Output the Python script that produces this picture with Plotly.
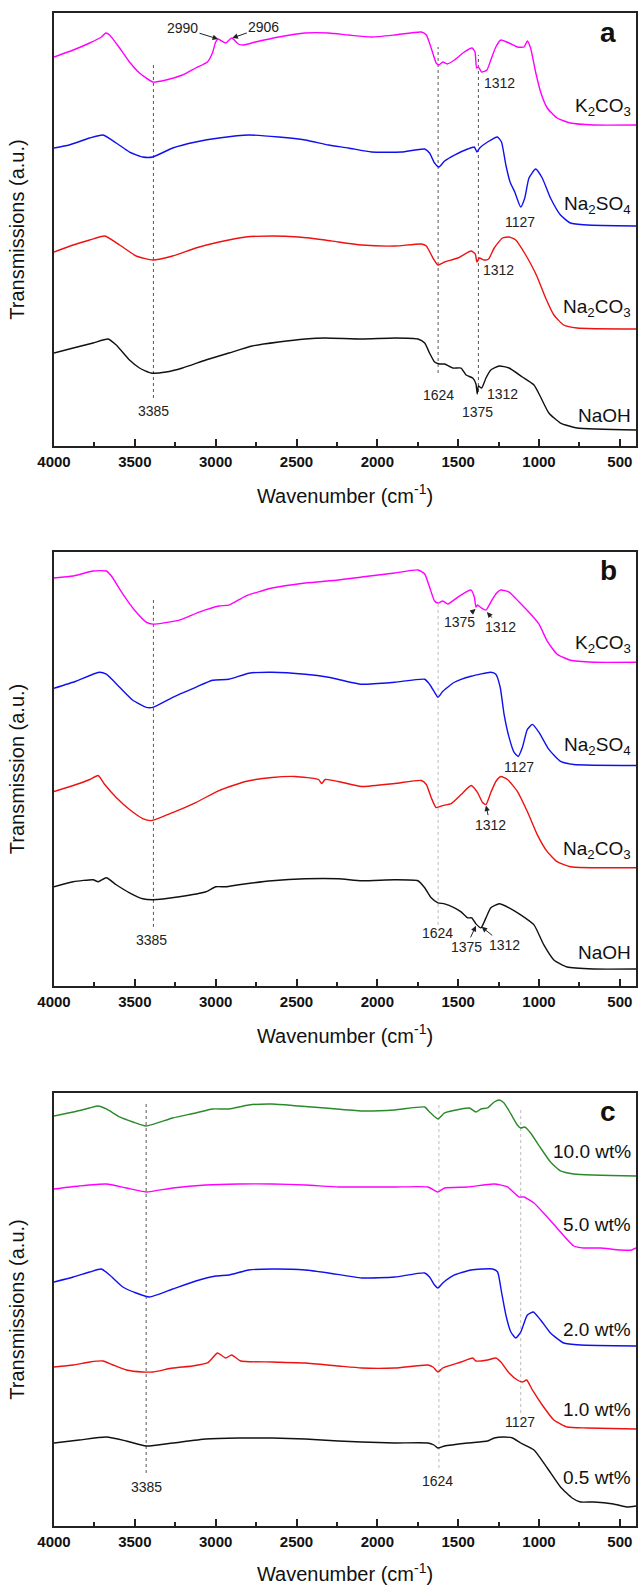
import plotly.graph_objects as go

# ---------------- Panel a ----------------
a_k2co3_wn = [4000, 3881, 3779, 3707, 3680, 3656, 3594, 3533, 3471, 3389, 3307, 3205, 3123, 3051, 3020, 3000, 2985, 2938, 2901, 2860,
              2831, 2754, 2610, 2446, 2302, 2179, 2036, 1892, 1728, 1697, 1667, 1636, 1619, 1595, 1568, 1523, 1462, 1414, 1396, 1386,
              1375, 1355, 1322, 1298, 1267, 1236, 1185, 1133, 1093, 1072, 1052, 1021, 990, 949, 888, 806, 662, 400]
a_k2co3_t = [389, 396, 403, 409, 413, 411, 398, 384, 373, 364, 366, 371, 378, 384, 393, 404, 407, 403, 408, 402,
             401, 404, 409, 413, 413, 411, 409, 411, 414, 411, 398, 383, 381, 384, 382, 386, 394, 398, 394, 378,
             379, 374, 376, 386, 399, 406, 403, 399, 399, 405, 398, 374, 354, 338, 328, 323, 321, 321]

a_na2so4_wn = [4000, 3906, 3779, 3697, 3615, 3533, 3451, 3389, 3266, 3123, 2979, 2795, 2610, 2446, 2302, 2179, 2036, 1851,
               1707, 1677, 1646, 1619, 1584, 1523, 1441, 1400, 1384, 1367, 1318, 1257, 1232, 1205, 1179, 1150, 1113, 1088,
               1062, 1021, 980, 929, 867, 806, 703, 400]
a_na2so4_t = [298, 301, 308, 311, 303, 294, 289, 289, 298, 304, 308, 311, 309, 306, 301, 298, 294, 294,
              297, 293, 283, 279, 285, 291, 297, 299, 294, 298, 304, 309, 304, 281, 264, 254, 239, 248,
              268, 277, 268, 248, 231, 223, 221, 220]

a_na2co3_wn = [4000, 3881, 3779, 3686, 3594, 3492, 3389, 3266, 3123, 2979, 2815, 2651, 2487, 2323, 2241, 2097, 1892, 1728,
               1697, 1656, 1625, 1584, 1502, 1420, 1394, 1384, 1369, 1339, 1312, 1277, 1226, 1185, 1144, 1082, 1041, 1011,
               959, 908, 847, 765, 400]
a_na2co3_t = [194, 201, 206, 210, 201, 190, 186, 190, 198, 204, 209, 210, 209, 206, 204, 201, 200, 202,
              200, 188, 181, 184, 188, 195, 192, 184, 188, 186, 187, 198, 208, 209, 206, 191, 179, 169,
              148, 131, 121, 118, 117]

a_naoh_wn = [4000, 3881, 3758, 3666, 3615, 3533, 3471, 3399, 3307, 3205, 3061, 2918, 2774, 2610, 2446, 2323, 2097, 1892,
             1749, 1707, 1677, 1646, 1615, 1584, 1533, 1482, 1451, 1410, 1390, 1382, 1375, 1355, 1328, 1298, 1246, 1185,
             1103, 1031, 990, 939, 867, 765, 400]
a_naoh_t = [93, 98, 103, 107, 101, 86, 78, 73, 74, 78, 86, 93, 100, 104, 107, 108, 107, 108,
            107, 103, 93, 84, 82, 82, 78, 78, 71, 68, 62, 52, 60, 58, 68, 76, 80, 78,
            69, 61, 49, 33, 23, 18, 16]

# ---------------- Panel b ----------------
b_k2co3_wn = [4000, 3881, 3758, 3676, 3645, 3574, 3492, 3430, 3389, 3225, 3102, 2979, 2918, 2815, 2651, 2446, 2241, 2097,
              1892, 1749, 1707, 1677, 1646, 1625, 1595, 1564, 1502, 1441, 1420, 1400, 1390, 1380, 1355, 1328, 1298, 1267,
              1236, 1185, 1123, 1052, 1000, 949, 888, 806, 662, 400]
b_k2co3_t = [407, 409, 414, 414, 409, 391, 373, 363, 361, 365, 373, 379, 380, 389, 397, 402, 405, 408,
             412, 415, 411, 398, 384, 382, 384, 381, 388, 394, 395, 388, 378, 380, 377, 375, 383, 391,
             395, 393, 383, 371, 361, 344, 331, 325, 323, 323]

b_na2so4_wn = [4000, 3865, 3721, 3676, 3594, 3512, 3430, 3389, 3266, 3123, 3020, 2918, 2795, 2651, 2446, 2302, 2097, 1892,
               1707, 1677, 1646, 1625, 1595, 1523, 1420, 1298, 1267, 1240, 1216, 1185, 1154, 1129, 1103, 1072, 1041, 1000,
               939, 867, 785, 400]
b_na2so4_t = [297, 304, 313, 311, 298, 285, 278, 278, 288, 298, 305, 306, 312, 313, 311, 308, 301, 303,
              306, 301, 293, 288, 294, 303, 309, 313, 311, 298, 271, 248, 233, 229, 238, 256, 261, 253,
              236, 224, 221, 220]

b_na2co3_wn = [4000, 3881, 3779, 3727, 3686, 3615, 3533, 3451, 3399, 3266, 3123, 2979, 2815, 2651, 2508, 2364, 2344, 2323,
               2241, 2097, 1892, 1728, 1697, 1667, 1636, 1595, 1543, 1482, 1420, 1380, 1349, 1328, 1298, 1267, 1236, 1195,
               1133, 1072, 1011, 949, 888, 806, 400]
b_na2co3_t = [194, 200, 206, 210, 201, 188, 176, 167, 165, 173, 183, 195, 204, 208, 209, 206, 202, 206,
              204, 199, 202, 205, 201, 188, 178, 180, 182, 191, 200, 193, 183, 181, 193, 204, 209, 206,
              194, 174, 151, 134, 124, 119, 118]

b_naoh_wn = [4000, 3881, 3758, 3727, 3676, 3615, 3533, 3451, 3389, 3225, 3061, 2999, 2938, 2856, 2651, 2446, 2241, 2097,
             1892, 1749, 1707, 1667, 1625, 1584, 1523, 1482, 1441, 1416, 1390, 1359, 1328, 1298, 1246, 1185, 1113, 1031,
             970, 908, 826, 662, 400]
b_naoh_t = [99, 104, 106, 104, 108, 101, 93, 87, 86, 89, 94, 99, 99, 101, 105, 107, 107, 105,
            106, 105, 98, 88, 83, 82, 78, 74, 68, 68, 62, 58, 68, 78, 82, 78, 71, 61,
            41, 26, 19, 17, 17]

# ---------------- Panel c ----------------
c_w10_wn = [4000, 3881, 3779, 3727, 3676, 3594, 3512, 3430, 3266, 3123, 3020, 2918, 2795, 2651, 2487, 2323, 2097, 1892,
            1707, 1677, 1625, 1584, 1482, 1431, 1390, 1359, 1318, 1277, 1246, 1216, 1174, 1134, 1113, 1088, 1052, 990,
            929, 867, 785, 400]
c_w10_t = [410, 414, 418, 420, 417, 409, 404, 400, 408, 413, 417, 417, 421, 422, 420, 418, 415, 416,
           419, 414, 407, 413, 417, 418, 414, 417, 418, 424, 426, 423, 412, 401, 398, 399, 393, 378,
           364, 355, 352, 350]

c_w5_wn = [4000, 3844, 3676, 3553, 3430, 3266, 3061, 2856, 2651, 2446, 2241, 2097, 1892, 1687, 1625, 1584, 1441, 1277,
           1195, 1123, 1093, 1031, 949, 867, 785, 724, 621, 498, 426, 400]
c_w5_t = [337, 340, 342, 338, 334, 338, 341, 342, 342, 341, 339, 339, 339, 339, 334, 338, 339, 342,
          339, 329, 329, 323, 309, 294, 280, 278, 278, 276, 276, 278]

c_w2_wn = [4000, 3881, 3779, 3707, 3656, 3574, 3492, 3410, 3266, 3123, 2999, 2918, 2795, 2651, 2446, 2302, 2097, 1892,
           1707, 1677, 1646, 1625, 1595, 1523, 1420, 1287, 1256, 1232, 1205, 1174, 1144, 1113, 1072, 1035, 990, 929,
           847, 744, 400]
c_w2_t = [244, 249, 254, 257, 251, 239, 233, 229, 237, 245, 250, 251, 256, 257, 256, 253, 248, 249,
          253, 249, 241, 238, 243, 251, 256, 257, 254, 234, 211, 194, 188, 194, 211, 214, 206, 193,
          183, 181, 180]

c_w1_wn = [4000, 3881, 3779, 3697, 3635, 3553, 3451, 3389, 3266, 3143, 3051, 3020, 2989, 2938, 2901, 2846, 2651, 2446,
           2241, 2097, 1892, 1687, 1656, 1625, 1595, 1482, 1410, 1390, 1318, 1267, 1236, 1185, 1134, 1103, 1076, 1041,
           980, 908, 826, 703, 400]
c_w1_t = [159, 161, 164, 165, 161, 156, 154, 154, 158, 160, 163, 168, 173, 168, 171, 165, 164, 163,
          160, 158, 158, 161, 159, 154, 158, 164, 168, 165, 166, 168, 164, 153, 146, 144, 146, 136,
          121, 106, 99, 98, 97]

c_w05_wn = [4000, 3844, 3676, 3553, 3430, 3266, 3061, 2856, 2651, 2446, 2241, 2097, 1892, 1687, 1650, 1625, 1584, 1441,
            1318, 1277, 1216, 1164, 1113, 1031, 949, 867, 795, 744, 662, 539, 457, 400]
c_w05_t = [83, 86, 89, 85, 80, 83, 87, 88, 88, 87, 85, 84, 83, 83, 81, 78, 80, 83,
           85, 88, 89, 88, 83, 76, 58, 39, 28, 24, 24, 22, 19, 20]

# series names / labels
a_names = ["K<sub>2</sub>CO<sub>3</sub>", "Na<sub>2</sub>SO<sub>4</sub>", "Na<sub>2</sub>CO<sub>3</sub>", "NaOH"]
c_names = ["10.0 wt%", "5.0 wt%", "2.0 wt%", "1.0 wt%", "0.5 wt%"]
a_label_t = [339, 241, 138, 31]
b_label_t = [341, 239, 136, 33]
c_label_t = [374, 301, 196, 116, 48]

# reference (dotted) lines: wavenumber, top, bottom
a_ref_wn = [3385, 1624, 1375]
a_ref_top = [384, 399, 391]
a_ref_bot = [48, 73, 54]
b_ref_wn = [3385, 1624]
b_ref_top = [385, 384]
b_ref_bot = [59, 61]
c_ref_wn = [3430, 1619, 1113]
c_ref_top = [424, 421, 416]
c_ref_bot = [53, 58, 113]

# peak labels (text, wavenumber, height)
a_peak_text = ["1312", "1127", "1312", "3385", "1624", "1375", "1312"]
a_peak_wn = [1246, 1119, 1252, 3385, 1619, 1380, 1226]
a_peak_t = [363, 224, 176, 35, 51, 34, 52]
b_peak_text = ["1127", "3385", "1624"]
b_peak_wn = [1123, 3400, 1625]
b_peak_t = [218, 46, 53]
c_peak_text = ["3385", "1624", "1127"]
c_peak_wn = [3430, 1625, 1117]
c_peak_t = [39, 45, 104]

# arrowed labels: text, label wn, label t, tip wn, tip t
a_arrow_text = ["2990", "2906"]
a_arrow_lwn = [3205, 2702]
a_arrow_lt = [418, 419]
a_arrow_twn = [2985, 2897]
a_arrow_tt = [407, 408]
b_arrow_text = ["1375", "1312", "1312", "1375", "1312"]
b_arrow_lwn = [1492, 1240, 1302, 1451, 1216]
b_arrow_lt = [363, 358, 161, 39, 41]
b_arrow_twn = [1392, 1322, 1328, 1390, 1355]
b_arrow_tt = [376, 373, 180, 60, 59]

a_colors = ["#ff00ff", "#1010ee", "#ee1111", "#111111"]
c_colors = ["#2a8a2a", "#ff00ff", "#1010ee", "#ee1111", "#111111"]

FONT = "Liberation Sans, Arial, sans-serif"
fig = go.Figure()

panels = [
    ("x", "y", [(a_k2co3_wn, a_k2co3_t), (a_na2so4_wn, a_na2so4_t), (a_na2co3_wn, a_na2co3_t), (a_naoh_wn, a_naoh_t)],
     a_colors, a_names, a_label_t, "a", (a_ref_wn, a_ref_top, a_ref_bot), ["#555", "#555", "#555"],
     (a_peak_text, a_peak_wn, a_peak_t), (a_arrow_text, a_arrow_lwn, a_arrow_lt, a_arrow_twn, a_arrow_tt)),
    ("x2", "y2", [(b_k2co3_wn, b_k2co3_t), (b_na2so4_wn, b_na2so4_t), (b_na2co3_wn, b_na2co3_t), (b_naoh_wn, b_naoh_t)],
     a_colors, a_names, b_label_t, "b", (b_ref_wn, b_ref_top, b_ref_bot), ["#555", "#bbb"],
     (b_peak_text, b_peak_wn, b_peak_t), (b_arrow_text, b_arrow_lwn, b_arrow_lt, b_arrow_twn, b_arrow_tt)),
    ("x3", "y3", [(c_w10_wn, c_w10_t), (c_w5_wn, c_w5_t), (c_w2_wn, c_w2_t), (c_w1_wn, c_w1_t), (c_w05_wn, c_w05_t)],
     c_colors, c_names, c_label_t, "c", (c_ref_wn, c_ref_top, c_ref_bot), ["#555", "#bbb", "#bbb"],
     (c_peak_text, c_peak_wn, c_peak_t), None),
]

annotations = []
for xa, ya, series, colors, names, label_t, letter, refs, ref_colors, peaks, arrows in panels:
    # reference dotted lines
    for wn, top, bot, col in zip(refs[0], refs[1], refs[2], ref_colors):
        fig.add_trace(go.Scatter(x=[wn, wn], y=[bot, top], mode="lines", xaxis=xa, yaxis=ya,
                                 line=dict(color=col, width=1, dash="dot"), hoverinfo="skip"))
    for (wn, t), col, name in zip(series, colors, names):
        fig.add_trace(go.Scatter(x=wn, y=t, mode="lines", xaxis=xa, yaxis=ya, name=name,
                                 line=dict(color=col, width=1.4, shape="spline", smoothing=0.5)))
    for name, lt in zip(names, label_t):
        annotations.append(dict(x=418, y=lt, xref=xa, yref=ya, text=name, showarrow=False,
                                xanchor="right", yanchor="middle", font=dict(family=FONT, size=19, color="#111")))
    annotations.append(dict(x=572, y=414, xref=xa, yref=ya, text="<b>%s</b>" % letter, showarrow=False,
                            xanchor="center", yanchor="middle", font=dict(family=FONT, size=28, color="#111")))
    for txt, wn, t in zip(*peaks):
        annotations.append(dict(x=wn, y=t, xref=xa, yref=ya, text=txt, showarrow=False,
                                xanchor="center", yanchor="middle", font=dict(family=FONT, size=14, color="#222")))
    if arrows:
        for txt, lwn, lt, twn, tt in zip(*arrows):
            annotations.append(dict(x=twn, y=tt, ax=lwn, ay=lt, xref=xa, yref=ya, axref=xa, ayref=ya,
                                    text=txt, showarrow=True, arrowhead=2, arrowsize=1.1, arrowwidth=1,
                                    arrowcolor="#222", standoff=0,
                                    font=dict(family=FONT, size=14, color="#222")))

xcommon = dict(range=[4000, 400], dtick=500, tick0=0, ticks="inside", ticklen=7, tickwidth=1.5, tickcolor="#222",
               showline=True, mirror=True, linecolor="#222", linewidth=1.6, showgrid=False, zeroline=False,
               ticklabelstandoff=1,
               tickfont=dict(family=FONT, size=15, weight="bold", color="#111"),
               minor=dict(ticks="inside", ticklen=4, dtick=250, tick0=0, tickwidth=1.5, tickcolor="#222", showgrid=False),
               title=dict(text="Wavenumber (cm<sup>-1</sup>)", font=dict(family=FONT, size=20, color="#111"), standoff=20))
ycommon = dict(range=[0, 433], showticklabels=False, ticks="", showline=True, mirror=True, linecolor="#222",
               linewidth=1.6, showgrid=False, zeroline=False)

ytitles = ["Transmissions (a.u.)", "Transmission (a.u.)", "Transmissions (a.u.)"]
domains = [[0.7138, 1.0], [0.3569, 0.6438], [0.0, 0.2862]]

fig.update_layout(
    width=639, height=1585, margin=dict(l=54, r=1, t=13, b=59),
    paper_bgcolor="white", plot_bgcolor="white", showlegend=False,
    annotations=annotations,
    xaxis=dict(xcommon, anchor="y"),
    xaxis2=dict(xcommon, anchor="y2"),
    xaxis3=dict(xcommon, anchor="y3"),
    yaxis=dict(ycommon, domain=domains[0], anchor="x",
               title=dict(text=ytitles[0], font=dict(family=FONT, size=20, color="#111"), standoff=22)),
    yaxis2=dict(ycommon, domain=domains[1], anchor="x2",
                title=dict(text=ytitles[1], font=dict(family=FONT, size=20, color="#111"), standoff=22)),
    yaxis3=dict(ycommon, domain=domains[2], anchor="x3",
                title=dict(text=ytitles[2], font=dict(family=FONT, size=20, color="#111"), standoff=22)),
)

fig.write_html("out.html", config={"displayModeBar": False},
               post_script="document.body.style.margin='0';document.body.style.overflow='hidden';")
